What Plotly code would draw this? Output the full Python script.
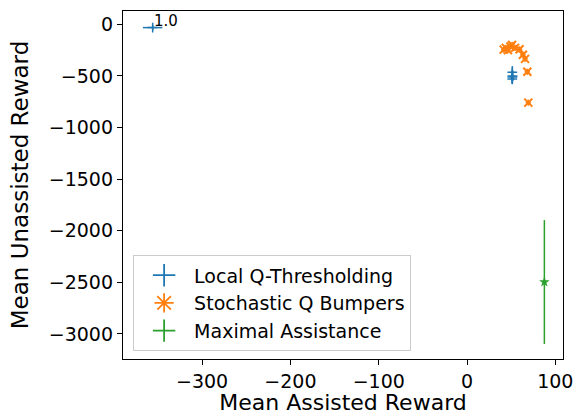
import plotly.graph_objects as go

# Local Q-Thresholding (blue)
lqt_x = [-356.0, 51.3, 51.5, 51.2, 51.4]
lqt_y = [-32.0, -465.0, -500.0, -530.0, -510.0]
lqt_xerr = [11.0, 2.0, 2.0, 2.0, 2.0]
lqt_yerr = [25.0, 60.0, 50.0, 40.0, 70.0]
lqt_labels = ["1.0", "", "", "", ""]

# Stochastic Q Bumpers (orange)
sqb_x = [41.5, 44.0, 46.3, 49.2, 51.0, 54.4, 59.5, 63.3, 65.7, 68.3, 69.4]
sqb_y = [-245.0, -228.0, -250.0, -215.0, -200.0, -228.0, -242.0, -295.0, -335.0, -460.0, -759.0]
sqb_xerr = [3.0] * len(sqb_x)
sqb_yerr = [30.0] * len(sqb_x)

# Maximal Assistance (green)
ma_x = [87.6]
ma_y = [-2497.0]
ma_xerr = [1.5]
ma_yerr = [600.0]

BLUE, ORANGE, GREEN = "#1f77b4", "#ff7f0e", "#2ca02c"
FONT = "DejaVu Sans"

fig = go.Figure()

fig.add_trace(go.Scatter(
    x=lqt_x, y=lqt_y, mode="markers", showlegend=False,
    marker=dict(symbol="cross-thin-open", size=7, color=BLUE, line=dict(color=BLUE, width=1.5)),
    error_x=dict(type="data", array=lqt_xerr, color=BLUE, thickness=1.5, width=0),
    error_y=dict(type="data", array=lqt_yerr, color=BLUE, thickness=1.5, width=0),
))
fig.add_trace(go.Scatter(
    x=sqb_x, y=sqb_y, mode="markers", showlegend=False,
    marker=dict(symbol="x-thin-open", size=8, color=ORANGE, line=dict(color=ORANGE, width=2)),
    error_x=dict(type="data", array=sqb_xerr, color=ORANGE, thickness=1.5, width=0),
    error_y=dict(type="data", array=sqb_yerr, color=ORANGE, thickness=1.5, width=0),
))
fig.add_trace(go.Scatter(
    x=ma_x, y=ma_y, mode="markers", showlegend=False,
    marker=dict(symbol="star", size=8, color=GREEN, line=dict(width=0)),
    error_x=dict(type="data", array=ma_xerr, color=GREEN, thickness=1.5, width=0),
    error_y=dict(type="data", array=ma_yerr, color=GREEN, thickness=1.5, width=0),
))

# legend entries
for name, col, sym in [("Local Q-Thresholding", BLUE, "cross-thin-open"),
                       ("Stochastic Q Bumpers", ORANGE, "asterisk-open"),
                       ("Maximal Assistance", GREEN, "cross-thin-open")]:
    fig.add_trace(go.Scatter(
        x=[None], y=[None], mode="markers", name=name,
        marker=dict(symbol=sym, size=16, color=col, line=dict(color=col, width=1.8)),
    ))

for x, y, t in zip(lqt_x, lqt_y, lqt_labels):
    if t:
        fig.add_annotation(x=x, y=y, text=t, showarrow=False, xanchor="left", yanchor="middle",
                           xshift=-1, yshift=7, font=dict(family=FONT, size=15, color="black"))

axis_common = dict(showline=True, linecolor="black", linewidth=1.3, mirror=True,
                   ticks="outside", ticklen=5, tickwidth=1.3, tickcolor="black",
                   showgrid=False, zeroline=False, automargin=False,
                   tickfont=dict(family=FONT, size=19, color="black"))

fig.update_layout(
    width=577, height=415,
    margin=dict(l=123, r=14, t=11, b=56),
    paper_bgcolor="white", plot_bgcolor="white",
    font=dict(family=FONT, color="black"),
    xaxis=dict(range=[-389.6, 108.7], tickvals=[-300, -200, -100, 0, 100],
               ticktext=["\u2212300", "\u2212200", "\u2212100", "0", "100"],
               title=dict(text="Mean Assisted Reward", font=dict(family=FONT, size=22), standoff=3),
               **axis_common),
    yaxis=dict(range=[-3243, 129], tickvals=[0, -500, -1000, -1500, -2000, -2500, -3000],
               ticktext=["0", "\u2212500", "\u22121000", "\u22121500", "\u22122000", "\u22122500", "\u22123000"],
               title=dict(text="Mean Unassisted Reward", font=dict(family=FONT, size=23), standoff=13),
               **axis_common),
    legend=dict(x=0.023, y=0.022, xanchor="left", yanchor="bottom",
                bgcolor="rgba(255,255,255,0.8)", bordercolor="#cccccc", borderwidth=1,
                font=dict(family=FONT, size=19, color="black"), itemwidth=50),
)

fig.write_html("out.html", config={"displayModeBar": False},
               post_script="document.body.style.margin='0';")
